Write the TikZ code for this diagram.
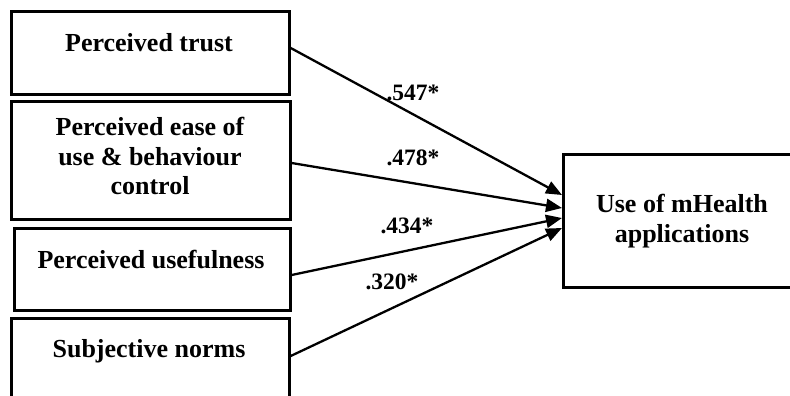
\documentclass[tikz,border=0pt]{standalone}
\usepackage{fontspec}
\setmainfont{Liberation Serif}
\usetikzlibrary{arrows.meta}
\begin{document}
\begin{tikzpicture}[x=1pt,y=-1pt,
  factor/.style={draw, line width=2.7pt, inner sep=0pt, anchor=north west},
  boxtext/.style={font=\fontsize{26}{29.5}\selectfont\bfseries, align=center, anchor=base, inner sep=0pt},
  effect/.style={line width=2.3pt, -{Triangle[length=16pt,width=13pt]}},
  coef/.style={font=\fontsize{23.5}{28}\selectfont\bfseries, anchor=base, inner sep=0pt}]
\useasboundingbox (0,0) rectangle (790,396);
\clip (0,0) rectangle (790,396);

% predictor boxes
\node[factor, minimum width=278pt, minimum height=83pt]  (b1) at (10,10)  {};
\node[factor, minimum width=279pt, minimum height=118pt] (b2) at (10,100) {};
\node[factor, minimum width=276pt, minimum height=82pt]  (b3) at (13,227) {};
\node[factor, minimum width=278pt, minimum height=120pt] (b4) at (10,317) {};
% outcome box
\node[factor, minimum width=270pt, minimum height=133pt] (out) at (562,153) {};

% box texts
\node[boxtext] (t1) at (149,52)  {Perceived trust};
\node[boxtext] (t2a) at (150,135) {Perceived ease of};
\node[boxtext] (t2b) at (150,165) {use \& behaviour};
\node[boxtext] (t2c) at (150,194) {control};
\node[boxtext] (t3) at (151,268) {Perceived usefulness};
\node[boxtext] (t4) at (149,357) {Subjective norms};
\node[boxtext] (t5a) at (682,212) {Use of mHealth};
\node[boxtext] (t5b) at (682,242) {applications};

% connector end points
\coordinate (s1) at (b1.east |- 0,48);
\coordinate (s2) at (b2.east |- 0,163);
\coordinate (s3) at (b3.east |- 0,275);
\coordinate (s4) at (b4.east |- 0,356);
\coordinate (e1) at (out.west |- 0,195);
\coordinate (e2) at (out.west |- 0,208);
\coordinate (e3) at (out.west |- 0,218);
\coordinate (e4) at (out.west |- 0,228);

\draw[effect] (s1) -- (e1);
\draw[effect] (s2) -- (e2);
\draw[effect] (s3) -- (e3);
\draw[effect] (s4) -- (e4);

% path coefficients
\node[coef] (c1) at (413,100) {.547*};
\node[coef] (c2) at (413,165) {.478*};
\node[coef] (c3) at (407,233) {.434*};
\node[coef] (c4) at (392,289) {.320*};
\end{tikzpicture}
\end{document}
